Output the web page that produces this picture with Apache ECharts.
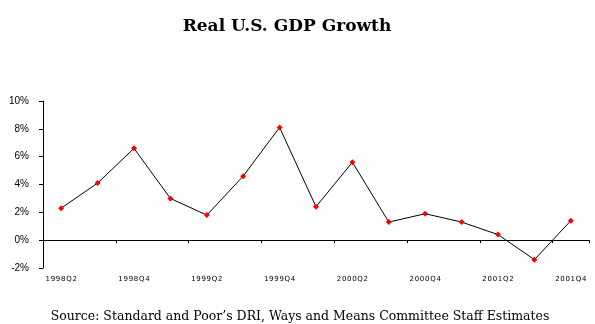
<!DOCTYPE html>
<html><head><meta charset="utf-8">
<script src="https://cdn.jsdelivr.net/npm/echarts@6/dist/echarts.min.js"></script>
<style>html,body{margin:0;padding:0;background:#fff}#c{width:595px;height:324px}</style>
</head><body><div id="c"></div>
<script>
const titleText = "Real U.S. GDP Growth";
const sourceText = "Source: Standard and Poor\u2019s DRI, Ways and Means Committee Staff Estimates";
const quarters = ["1998Q2","1998Q3","1998Q4","1999Q1","1999Q2","1999Q3","1999Q4","2000Q1","2000Q2","2000Q3","2000Q4","2001Q1","2001Q2","2001Q3","2001Q4"];
const growth = [2.3, 4.1, 6.6, 3.0, 1.8, 4.6, 8.1, 2.4, 5.6, 1.3, 1.9, 1.3, 0.4, -1.4, 1.4];
const yTicks = [-2, 0, 2, 4, 6, 8, 10];

const chart = echarts.init(document.getElementById('c'), null, {renderer:'canvas'});
chart.setOption({
  animation:false,
  backgroundColor:'#fff',
  title:[{
    text:titleText, left:282, top:13, textAlign:'center',
    textStyle:{fontFamily:'DejaVu Serif', fontWeight:'bold', fontSize:17, color:'#000'}
  },{
    text:sourceText, left:295, top:305, textAlign:'center',
    textStyle:{fontFamily:'DejaVu Serif', fontWeight:'normal', fontSize:12.5, color:'#000'}
  }],
  grid:{left:43, right:6, top:101, bottom:56, containLabel:false},
  xAxis:{
    type:'category', data:quarters, boundaryGap:true,
    axisLine:{onZero:true, lineStyle:{color:'#000', width:1}},
    axisTick:{show:true, interval:1, length:3, lineStyle:{color:'#000'}},
    axisLabel:{interval:1, margin:8, fontFamily:'DejaVu Sans', fontSize:7, color:'#000',
      formatter:v=>v.split('').join('\u200a')},
    splitLine:{show:false}
  },
  yAxis:{
    type:'value', min:yTicks[0], max:yTicks[yTicks.length-1], interval:2,
    axisLine:{show:true, onZero:false, lineStyle:{color:'#000', width:1}},
    axisTick:{show:true, length:4, lineStyle:{color:'#000'}},
    axisLabel:{margin:14, fontFamily:'Liberation Sans', fontSize:10, color:'#000', formatter:v=>v+'%'},
    splitLine:{show:false}
  },
  series:[{
    type:'line', data:growth,
    lineStyle:{color:'#000', width:1},
    symbol:'diamond', symbolSize:6,
    itemStyle:{color:'#ff0000'}
  }]
});
</script></body></html>
